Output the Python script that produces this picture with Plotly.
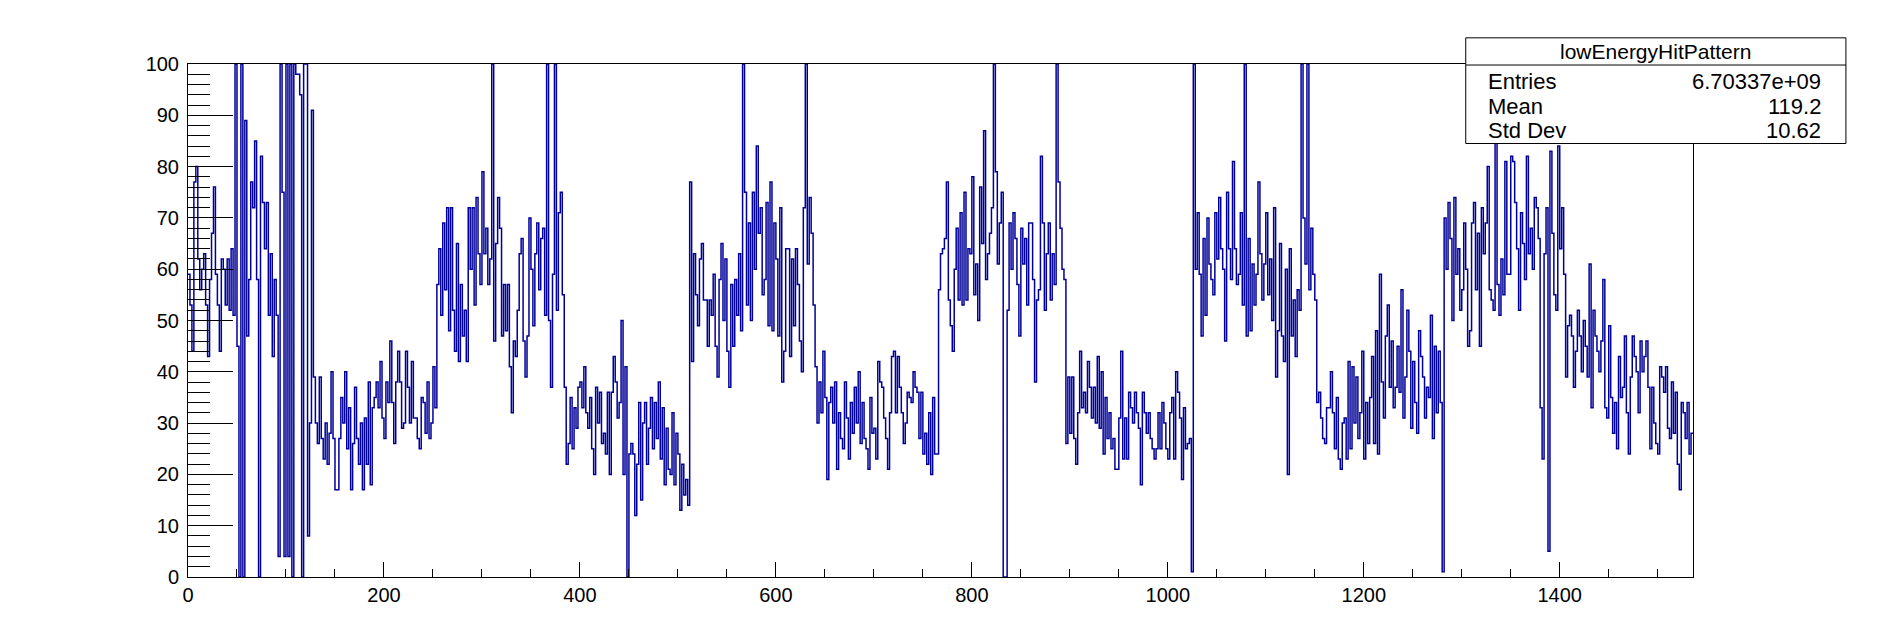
import plotly.graph_objects as go

# ---- data (bin contents, 2-unit wide bins from 0 to 1536) ----
x_min = 0
x_max = 1536
bin_width = 2
counts = [
    59, 53, 44, 77, 80, 62, 56, 60, 63, 53, 43, 58, 67, 76, 59, 53,
    44, 62, 60, 53, 62, 52, 64, 51, 100, 45, 0, 100, 0, 89, 47, 58,
    77, 72, 85, 58, 0, 82, 73, 64, 73, 51, 63, 43, 58, 51, 4, 100,
    75, 4, 100, 4, 100, 0, 100, 98, 98, 94, 0, 100, 100, 8, 30, 91,
    39, 30, 26, 39, 27, 23, 30, 22, 28, 40, 27, 17, 17, 27, 35, 30,
    40, 25, 33, 17, 26, 37, 27, 22, 30, 17, 31, 22, 38, 18, 33, 35,
    38, 33, 42, 31, 27, 38, 34, 46, 34, 26, 38, 44, 38, 29, 30, 44,
    37, 30, 42, 31, 31, 27, 25, 35, 34, 28, 38, 27, 30, 41, 33, 57,
    64, 51, 69, 56, 72, 48, 72, 52, 44, 65, 42, 57, 47, 52, 42, 72,
    60, 72, 53, 74, 63, 57, 79, 63, 68, 57, 62, 100, 46, 65, 74, 68,
    47, 57, 48, 57, 41, 32, 46, 43, 52, 63, 66, 46, 39, 47, 70, 60,
    49, 63, 69, 56, 66, 68, 51, 100, 50, 37, 59, 100, 52, 71, 75, 55,
    37, 22, 26, 35, 25, 33, 29, 37, 38, 33, 41, 32, 29, 35, 25, 20,
    37, 30, 36, 26, 28, 24, 36, 20, 36, 43, 38, 31, 34, 50, 20, 41,
    0, 24, 26, 24, 12, 22, 34, 15, 30, 34, 22, 29, 35, 25, 34, 27,
    38, 23, 33, 18, 29, 21, 20, 32, 18, 28, 24, 13, 22, 16, 19, 14,
    77, 42, 63, 55, 49, 62, 65, 54, 54, 45, 54, 51, 59, 45, 39, 58,
    65, 50, 62, 44, 37, 57, 45, 58, 51, 63, 48, 100, 75, 53, 69, 50,
    75, 60, 84, 67, 72, 55, 58, 73, 49, 77, 48, 69, 62, 47, 72, 38,
    44, 64, 64, 43, 62, 49, 64, 57, 46, 40, 72, 100, 61, 74, 67, 53,
    41, 30, 38, 32, 44, 35, 19, 34, 37, 30, 38, 21, 32, 27, 25, 38,
    31, 23, 34, 28, 37, 30, 40, 26, 34, 27, 25, 21, 35, 28, 29, 23,
    42, 38, 37, 31, 27, 21, 32, 43, 44, 32, 43, 37, 32, 26, 30, 36,
    35, 34, 40, 37, 36, 27, 36, 24, 28, 22, 32, 20, 35, 24, 24, 56,
    63, 64, 66, 77, 54, 49, 44, 60, 68, 54, 71, 53, 75, 54, 64, 63,
    78, 55, 61, 50, 76, 65, 87, 58, 63, 67, 72, 100, 79, 61, 69, 75,
    0, 0, 52, 69, 60, 71, 66, 57, 47, 68, 61, 66, 53, 69, 69, 58,
    38, 54, 56, 82, 69, 52, 63, 69, 54, 63, 57, 100, 77, 68, 60, 58,
    26, 39, 28, 39, 27, 22, 32, 44, 33, 36, 32, 42, 37, 31, 37, 30,
    43, 29, 40, 24, 35, 27, 32, 25, 27, 21, 21, 31, 44, 23, 31, 23,
    36, 33, 30, 36, 32, 29, 18, 36, 32, 28, 32, 27, 25, 23, 25, 32,
    25, 34, 30, 25, 23, 32, 35, 23, 40, 36, 31, 19, 33, 25, 26, 27,
    1, 100, 60, 71, 59, 47, 66, 51, 70, 61, 58, 55, 71, 62, 74, 64,
    60, 46, 75, 64, 58, 81, 64, 57, 59, 71, 53, 100, 47, 66, 48, 61,
    53, 59, 77, 63, 54, 61, 71, 55, 62, 50, 72, 39, 48, 65, 47, 42,
    60, 20, 64, 47, 54, 43, 56, 52, 100, 70, 61, 100, 56, 68, 59, 54,
    34, 36, 31, 27, 26, 33, 33, 40, 32, 25, 35, 23, 21, 30, 31, 23,
    42, 25, 41, 30, 39, 27, 32, 44, 23, 34, 26, 35, 43, 26, 48, 24,
    59, 38, 31, 47, 53, 37, 46, 33, 37, 45, 36, 56, 31, 39, 52, 44,
    29, 42, 34, 28, 48, 43, 39, 31, 37, 35, 51, 27, 45, 32, 44, 34,
    1, 70, 60, 73, 66, 50, 74, 59, 64, 52, 56, 69, 60, 45, 48, 69,
    73, 56, 67, 45, 72, 63, 69, 80, 56, 54, 52, 88, 57, 51, 62, 55,
    81, 59, 59, 82, 81, 73, 64, 52, 71, 65, 58, 82, 63, 68, 60, 74,
    72, 66, 33, 23, 63, 72, 5, 83, 67, 55, 52, 84, 64, 72, 59, 39,
    49, 51, 47, 37, 44, 52, 47, 40, 50, 45, 39, 61, 33, 52, 47, 44,
    40, 46, 58, 33, 31, 49, 35, 28, 34, 25, 43, 35, 37, 47, 32, 24,
    39, 47, 43, 40, 32, 46, 40, 43, 46, 37, 25, 37, 30, 26, 24, 41,
    39, 36, 41, 29, 27, 38, 28, 36, 22, 17, 34, 32, 27, 34, 24, 28,
]

stats_title = "lowEnergyHitPattern"
stats_labels = ["Entries", "Mean", "Std Dev"]
stats_values = ["6.70337e+09", "119.2", "10.62"]

y_min, y_max = 0, 100

# ---- figure ----
edges = [x_min + i * bin_width for i in range(len(counts) + 1)]
ys = counts + [counts[-1]]

FONT = "Liberation Sans, Arial, Helvetica, sans-serif"

fig = go.Figure()
fig.add_trace(go.Scatter(
    x=edges, y=ys, mode="lines",
    line=dict(shape="hv", color="#000099", width=1.5),
    hoverinfo="skip", showlegend=False,
))

fig.update_layout(
    width=1881, height=643, autosize=False,
    margin=dict(l=180, r=196, t=56, b=74),
    paper_bgcolor="white", plot_bgcolor="white",
    showlegend=False,
    font=dict(family=FONT, size=18, color="black"),
)
fig.update_xaxes(
    range=[x_min, x_max], showgrid=False, zeroline=False,
    showline=True, linecolor="black", linewidth=1, mirror=True,
    ticks="inside", ticklen=15, tickcolor="black", tickwidth=1,
    tick0=0, dtick=200,
    minor=dict(ticks="inside", ticklen=8, dtick=50, tickcolor="black", tickwidth=1),
    tickfont=dict(family=FONT, size=20, color="black"),
)
fig.update_yaxes(
    range=[y_min, y_max], showgrid=False, zeroline=False,
    showline=True, linecolor="black", linewidth=1, mirror=True,
    ticks="inside", ticklen=45, tickcolor="black", tickwidth=1,
    tick0=0, dtick=10,
    minor=dict(ticks="inside", ticklen=22, dtick=2, tickcolor="black", tickwidth=1),
    tickfont=dict(family=FONT, size=20, color="black"),
    ticklabelstandoff=4,
)

# ---- stats box ----
bx0, bx1 = 0.849, 1.1016
by0, by1 = 0.845, 1.051
sep = 0.998
fig.add_shape(type="rect", xref="paper", yref="paper",
              x0=bx0, x1=bx1, y0=by0, y1=by1,
              line=dict(color="black", width=1), fillcolor="white", layer="above")
fig.add_shape(type="line", xref="paper", yref="paper",
              x0=bx0, x1=bx1, y0=sep, y1=sep,
              line=dict(color="black", width=1), layer="above")
fig.add_annotation(xref="paper", yref="paper", x=(bx0 + bx1) / 2, y=(sep + by1) / 2,
                   text=stats_title, showarrow=False, xanchor="center", yanchor="middle",
                   font=dict(family=FONT, size=21, color="black"))
row_y = [0.9654, 0.9167, 0.8713]
for lab, val, yy in zip(stats_labels, stats_values, row_y):
    fig.add_annotation(xref="paper", yref="paper", x=0.8624, y=yy, text=lab,
                       showarrow=False, xanchor="left", yanchor="middle",
                       font=dict(family=FONT, size=22, color="black"))
    fig.add_annotation(xref="paper", yref="paper", x=1.0862, y=yy, text=val,
                       showarrow=False, xanchor="right", yanchor="middle",
                       font=dict(family=FONT, size=22, color="black"))

fig.write_html("out.html")
